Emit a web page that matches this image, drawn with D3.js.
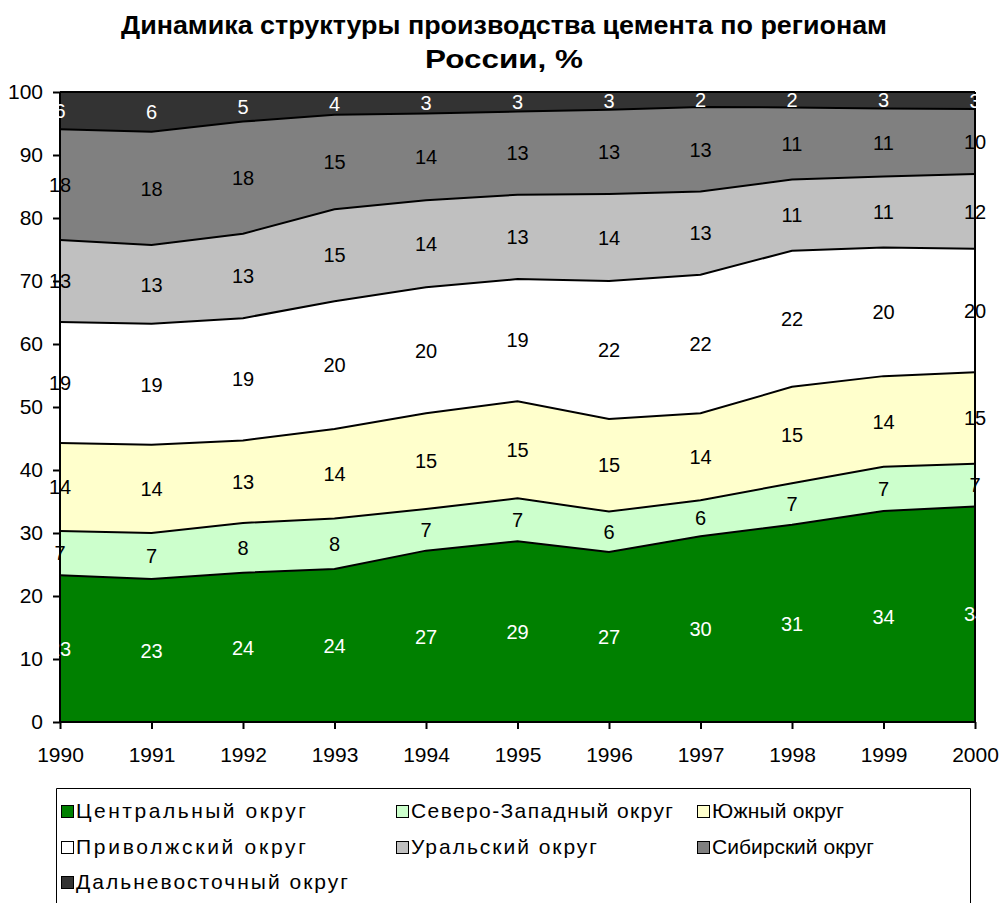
<!DOCTYPE html>
<html lang="ru">
<head>
<meta charset="UTF-8">
<title>Динамика структуры производства цемента</title>
<script src="https://d3js.org/d3.v7.min.js"></script>
<style>
  body { margin: 0; padding: 0; background: #fff; font-family: "Liberation Sans", Arial, sans-serif; }
  svg { display: block; }
</style>
</head>
<body>
<svg id="chart" width="1000" height="903"></svg>
<script>
// data
const years = [1990, 1991, 1992, 1993, 1994, 1995, 1996, 1997, 1998, 1999, 2000];
const regions = ["Центральный округ", "Северо-Западный округ", "Южный округ",
                 "Приволжский округ", "Уральский округ", "Сибирский округ", "Дальневосточный округ"];
const central   = [23.3, 22.7, 23.7, 24.3, 27.2, 28.7, 27.0, 29.5, 31.3, 33.5, 34.2];
const northWest = [7.0, 7.3, 7.9, 8.0, 6.6, 6.8, 6.4, 5.7, 6.6, 7.0, 6.8];
const south     = [14.0, 14.0, 13.1, 14.2, 15.2, 15.4, 14.7, 13.8, 15.3, 14.4, 14.5];
const volga     = [19.2, 19.2, 19.4, 20.3, 20.0, 19.4, 21.9, 22.0, 21.6, 20.4, 19.6];
const ural      = [13.0, 12.5, 13.4, 14.6, 13.8, 13.4, 13.8, 13.2, 11.3, 11.3, 11.9];
const siberia   = [17.6, 18.0, 17.8, 15.0, 13.8, 13.2, 13.4, 13.4, 11.45, 10.8, 10.3];
const farEast   = [5.9, 6.3, 4.7, 3.6, 3.4, 3.1, 2.8, 2.4, 2.45, 2.6, 2.7];
const yTicks = [0, 10, 20, 30, 40, 50, 60, 70, 80, 90, 100];

const series = [central, northWest, south, volga, ural, siberia, farEast];
const fills = ["#008000", "#ccffcc", "#ffffcc", "#ffffff", "#c0c0c0", "#808080", "#333333"];
const labelColors = ["#fff", "#000", "#000", "#000", "#000", "#000", "#fff"];
const font = "'Liberation Sans', Arial, sans-serif";

// legend text widths as drawn in the original (its spacing is uneven)
const legendTextLen = [230, 262, 132, 230, 186, 162, 272];

const svg = d3.select("#chart");

// plot area
const plotLeft = 60, plotRight = 975, plotTop = 92, plotBottom = 722;

const x = d3.scalePoint().domain(years).range([plotLeft, plotRight]);
const y = d3.scaleLinear().domain([0, 100]).range([plotBottom, plotTop]);

// build rows for the stack
const rows = years.map((yr, i) => {
    const r = { year: yr };
    regions.forEach((name, k) => { r[name] = series[k][i]; });
    return r;
});
const stacked = d3.stack().keys(regions)(rows);

const area = d3.area()
    .x(d => x(d.data.year))
    .y0(d => y(d[0]))
    .y1(d => y(d[1]));

svg.append("g").selectAll("path")
    .data(stacked)
    .join("path")
    .attr("d", area)
    .attr("fill", (d, i) => fills[i])
    .attr("stroke", "none");

// boundary lines
const topLine = d3.line()
    .x(d => x(d.data.year))
    .y(d => y(d[1]));
svg.append("g").selectAll("path")
    .data(stacked)
    .join("path")
    .attr("d", topLine)
    .attr("fill", "none")
    .attr("stroke", "#000")
    .attr("stroke-width", 2);

// right edge line
svg.append("line")
    .attr("x1", plotRight).attr("x2", plotRight)
    .attr("y1", plotTop).attr("y2", plotBottom)
    .attr("stroke", "#000").attr("stroke-width", 2);

// axes
const yAxis = d3.axisLeft(y).tickValues(yTicks).tickSize(7).tickPadding(10);
const gy = svg.append("g").attr("transform", `translate(${plotLeft},0)`).call(yAxis);
const xAxis = d3.axisBottom(x).tickSize(7).tickPadding(18).tickFormat(d3.format("d"));
const gx = svg.append("g").attr("transform", `translate(0,${plotBottom})`).call(xAxis);
[gx, gy].forEach(g => {
    g.selectAll("path, line").attr("stroke", "#000").attr("stroke-width", 2);
    g.selectAll("text").attr("font-size", 21).attr("fill", "#000")
        .attr("font-family", font);
});
gx.select(".domain").attr("d", `M${plotLeft},0H${plotRight}`);
gy.select(".domain").attr("d", `M0,${plotBottom}V${plotTop}`);

// data labels
const labels = svg.append("g")
    .attr("font-size", 20)
    .attr("font-family", font)
    .attr("text-anchor", "middle");
stacked.forEach((s, k) => {
    labels.selectAll(null)
        .data(s)
        .join("text")
        .attr("x", d => x(d.data.year))
        .attr("y", d => y((d[0] + d[1]) / 2))
        .attr("dy", "0.36em")
        .attr("fill", labelColors[k])
        .text(d => Math.round(d[1] - d[0]));
});

// title
const title = svg.append("g")
    .attr("font-family", font)
    .attr("font-weight", "bold")
    .attr("font-size", 25)
    .attr("text-anchor", "middle");
title.append("text").attr("x", 504).attr("y", 34)
    .attr("textLength", 766).attr("lengthAdjust", "spacingAndGlyphs")
    .text("Динамика структуры производства цемента по регионам");
title.append("text").attr("x", 504).attr("y", 68)
    .attr("textLength", 158).attr("lengthAdjust", "spacingAndGlyphs")
    .text("России, %");

// legend
svg.append("path")
    .attr("d", "M56.5,905V788.5H970.5V905")
    .attr("fill", "none")
    .attr("stroke", "#000")
    .attr("stroke-width", 1);
const colX = [61, 396, 697];
const rowY = [811, 847, 882];
const legend = svg.append("g")
    .attr("font-family", font)
    .attr("font-size", 21);
const items = legend.selectAll("g")
    .data(regions)
    .join("g")
    .attr("transform", (d, i) => `translate(${colX[i % 3]},${rowY[Math.floor(i / 3)]})`);
items.append("rect")
    .attr("x", 0.5).attr("y", -5.5)
    .attr("width", 12).attr("height", 12)
    .attr("fill", (d, i) => fills[i])
    .attr("stroke", "#000");
items.append("text")
    .attr("x", 15).attr("y", 0).attr("dy", "0.35em")
    .attr("fill", "#000")
    .attr("textLength", (d, i) => legendTextLen[i])
    .attr("lengthAdjust", "spacing")
    .text(d => d);
</script>
</body>
</html>
